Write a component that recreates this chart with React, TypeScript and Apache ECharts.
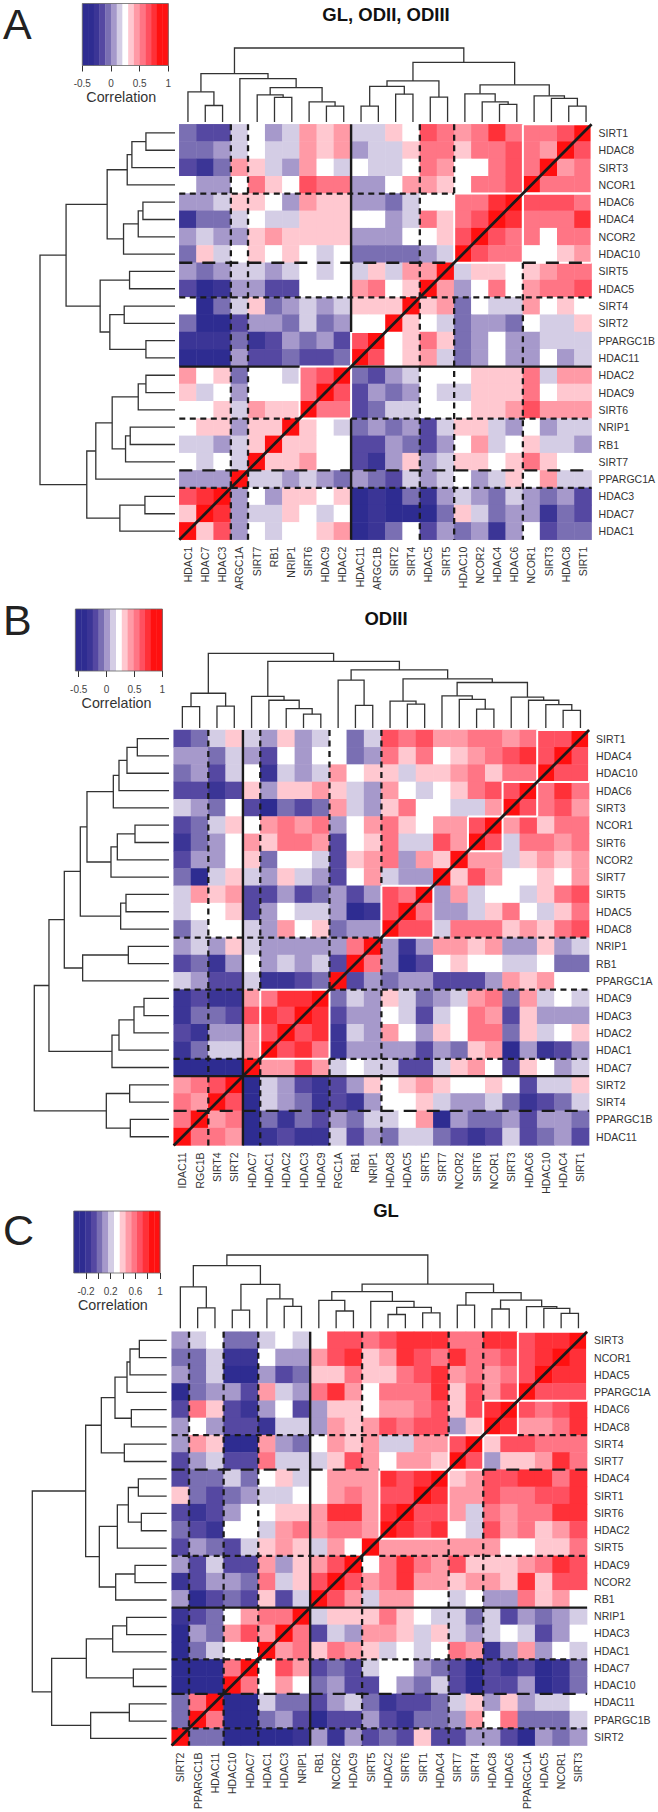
import React, { useEffect, useRef } from "react";
import * as echarts from "echarts";

// Colour-key bins, darkest blue (-7) to pure red (+7); cells are read as the bin number they show.
const KEY_COLORS = ["#2e2c91", "#2e2c91", "#3b3596", "#5548a2", "#7a6fb3", "#a699cb", "#d4cde5", "#ffffff", "#ffc8d0", "#ff9aa6", "#ff7585", "#ff5060", "#ff3038", "#ff1010", "#ff1010"];

const GENES_A = ["SIRT1", "HDAC8", "SIRT3", "NCOR1", "HDAC6", "HDAC4", "NCOR2", "HDAC10", "SIRT5", "HDAC5", "SIRT4", "SIRT2", "PPARGC1B", "HDAC11", "HDAC2", "HDAC9", "SIRT6", "NRIP1", "RB1", "SIRT7", "PPARGC1A", "HDAC3", "HDAC7", "HDAC1"];
const GENES_B = ["SIRT1", "HDAC4", "HDAC10", "HDAC6", "SIRT3", "NCOR1", "SIRT6", "NCOR2", "SIRT7", "SIRT5", "HDAC5", "HDAC8", "NRIP1", "RB1", "PPARGC1A", "HDAC9", "HDAC3", "HDAC2", "HDAC1", "HDAC7", "SIRT2", "SIRT4", "PPARGC1B", "HDAC11"];
const GENES_C = ["SIRT3", "NCOR1", "HDAC5", "PPARGC1A", "HDAC6", "HDAC8", "SIRT4", "SIRT7", "HDAC4", "SIRT1", "SIRT6", "HDAC2", "SIRT5", "HDAC9", "NCOR2", "RB1", "NRIP1", "HDAC3", "HDAC1", "HDAC7", "HDAC10", "HDAC11", "PPARGC1B", "SIRT2"];

// Column labels as they appear (the figure crops the long ones in A and B).
const CROPPED_A: Record<string, string> = { PPARGC1A: "ARGC1A", PPARGC1B: "ARGC1B" };
const CROPPED_B: Record<string, string> = { HDAC11: "IDAC11", PPARGC1A: "RGC1A", PPARGC1B: "RGC1B" };
const CROPPED_C: Record<string, string> = {};

// Colour-key tick marks and tick labels.
const KEY_TICKS_AB = [-0.5, 0, 0.5, 1];
const KEY_TICKS_C = [-0.2, 0, 0.2, 0.4, 0.6, 0.8, 1];
const KEY_LABELS_C = [-0.2, 0.2, 0.6, 1];

// Upper-left triangle of each symmetric matrix (row by row, columns left to right up to the diagonal).
const LEVELS_A = [
  [-3, -4, -4, -1, 0, -2, -1, 2, 1, 2, -1, -1, 1, 0, 4, 3, 2, 3, 5, 3, 3, 3, 4, 7],
  [-3, -3, -2, -1, 0, -1, -1, 2, 1, 2, -2, -1, -1, 1, 3, 3, 1, 3, 3, 4, 3, 2, 7],
  [-4, -5, -3, 2, 1, -1, -2, 2, 0, -1, 0, -1, -1, 0, 3, 2, 0, 0, 3, 4, 3, 7],
  [0, -2, -2, 0, 3, 1, 0, 4, 3, 3, -2, -2, 0, 2, 2, 1, 0, 3, 3, 4, 7],
  [-2, -2, -1, 1, 1, 0, -2, 2, 1, 1, -2, -2, -3, -1, 0, 0, 3, 3, 5, 7],
  [-5, -3, -3, -1, 0, -1, -1, 1, 1, 1, 0, 0, -2, -1, 3, 1, 3, 4, 7],
  [-2, -1, -2, -2, 1, 2, 1, 1, 1, 1, -2, -2, -2, 0, 0, 1, 4, 7],
  [-3, 1, -1, 0, 1, 0, 1, 0, -1, 0, -3, -3, -3, -3, -2, -1, 7],
  [-2, -3, -2, -1, -1, -2, -1, 0, -1, 0, -1, 1, -1, 2, 2, 7],
  [-4, -6, -5, -2, -2, -4, -4, 0, 0, 0, 2, 3, 0, 1, 7],
  [0, -6, -3, -1, 1, -3, -2, -1, -2, -1, 1, 1, 1, 7],
  [-3, -6, -6, -4, -2, -2, -3, -1, -3, -2, 0, 0, 7],
  [-5, -5, -5, -3, -5, -4, -2, -3, -2, -4, 4, 7],
  [-6, -6, -6, -2, -4, -4, -3, -4, -4, -3, 7],
  [2, 0, 1, -3, 0, 0, -1, 3, 4, 7],
  [1, -1, 0, -2, 0, 0, 0, 3, 7],
  [0, 0, 1, -1, 2, 1, 1, 7],
  [0, 1, 1, -2, 1, 1, 7],
  [-1, -1, -2, -1, 1, 7],
  [0, -1, 0, -1, 7],
  [-2, -2, -2, 7],
  [4, 5, 7],
  [1, 7],
  [7],
];
const LEVELS_B = [
  [-4, -3, -1, 1, -1, -2, 1, -2, -1, 0, -3, -1, 4, 3, 4, 2, 2, 3, 3, 2, 3, 4, 4, 7],
  [-2, -2, -3, -1, -2, -4, 0, -2, 0, 0, -3, -2, 3, 1, 3, 0, 1, 2, 3, 4, 5, 4, 7],
  [-3, -2, -4, -1, 0, -5, -1, -2, -1, 2, 0, 1, 1, -1, 1, 1, 2, 3, 1, 3, 3, 7],
  [-4, -4, -5, -4, 1, -2, 1, 1, 2, 1, -1, -2, 2, 0, -1, 0, 1, 3, 4, 4, 7],
  [-1, -2, -3, 0, -4, -6, -3, -4, -3, 2, -1, -2, 1, 3, 0, 0, -1, -1, 2, 7],
  [-4, -3, -1, 1, 0, 2, 3, 2, 3, -2, 0, 2, 3, 1, 0, 2, 2, 4, 7],
  [-5, -3, -2, 0, 2, 1, 3, 3, 2, -4, 0, 1, 3, -1, -1, 4, 2, 7],
  [-4, -2, -2, 0, 1, -3, 0, 0, -1, -4, 1, 2, 3, -2, 2, 1, 7],
  [-3, -6, -1, 1, -1, -2, 1, -1, -2, -4, 0, 2, -1, -2, -2, 7],
  [-1, 2, 1, 2, -4, -4, -2, -4, -3, -2, -4, -2, 4, 3, 7],
  [-1, 0, 0, 1, -4, -2, 0, -1, -1, -2, -6, -5, 4, 7],
  [-3, -1, 0, 0, -1, -2, 2, 0, 1, -3, -2, -2, 7],
  [-2, -1, -2, 1, -1, -2, -2, -2, -2, -2, 3, 7],
  [-4, -3, -5, -2, 0, -2, -1, -2, -1, -4, 7],
  [-1, -2, -4, -4, -1, -5, -5, -4, -3, 7],
  [-5, -4, -5, -5, 2, 3, 5, 5, 7],
  [-5, -3, -3, -4, 4, 5, 4, 7],
  [-4, -5, -2, -2, 2, 4, 7],
  [-5, -3, -1, -1, 2, 7],
  [-6, -6, -6, -6, 7],
  [2, 3, 4, 7],
  [3, 2, 7],
  [3, 7],
  [7],
];
const LEVELS_C = [
  [-2, -1, 0, -3, -3, -1, 0, -1, 0, 4, 4, 3, 4, 5, 5, 5, 3, 3, 5, 5, 4, 5, 5, 7],
  [-3, -3, -1, -5, -5, 0, -2, -2, 2, 4, 5, 1, 2, 5, 4, 3, 5, 3, 3, 4, 4, 5, 7],
  [-2, -3, -1, -6, -6, -2, -4, -3, 1, 1, 3, 1, 1, 3, 4, 5, 2, 3, 2, 3, 4, 7],
  [-6, -3, -2, -2, -4, 2, -1, -2, 3, 5, 2, 0, 3, 3, 3, 5, 1, 4, 2, 4, 7],
  [-4, 3, 1, -4, -5, -2, 0, -4, -2, 1, 1, 0, 2, 2, 3, 4, 1, 4, 5, 7],
  [-2, 0, -2, -4, -4, -5, -1, -1, -2, 2, 1, 2, 4, 3, 4, 4, -2, 1, 7],
  [-2, 2, 1, -6, -6, 2, -2, -3, 0, 2, 1, 2, -1, -1, 2, 2, 4, 7],
  [-4, -2, -1, -4, -4, 3, -1, -1, -1, 1, 4, 2, 0, 2, 2, 1, 7],
  [-4, -3, -3, -1, -3, 0, 1, -1, 0, 2, 2, 2, 5, 4, 5, 7],
  [1, -3, -4, -3, -2, -1, -1, 0, 0, 2, 3, 2, 4, 4, 7],
  [-4, -5, -4, -2, 0, 0, 1, 1, 2, 5, 5, 2, 5, 7],
  [-3, -4, -5, 0, 0, -1, 2, 3, 2, 3, 3, 2, 7],
  [-4, -2, -3, -4, -1, 1, 2, 1, -1, 2, 0, 7],
  [-2, -4, -1, -4, -4, 2, -2, 1, 2, 4, 7],
  [-5, -4, -2, -2, -3, 3, -1, 1, 4, 7],
  [-2, -6, -4, -3, -4, 1, -4, -1, 7],
  [-5, -4, -3, 0, 2, 3, 3, 7],
  [-6, -2, -3, 2, 4, 2, 7],
  [-6, -3, -1, 0, 0, 7],
  [-6, -6, -6, 3, 7],
  [-6, -6, -6, 7],
  [-3, 3, 7],
  [-3, 7],
  [7],
];

// Clustering trees: [merge height, left, right]; a leaf is a gene name.
type Tree = string | [number, Tree, Tree];
const TREE_A: Tree = [404,
  [264, [165, "HDAC1", [90, "HDAC7", "HDAC3"]],
    [237, "PPARGC1A", [188, [148, "SIRT7", [134, "RB1", "NRIP1"]], [110, "SIRT6", [87, "HDAC9", "HDAC2"]]]]],
  [326, [224, [195, [87, "HDAC11", "PPARGC1B"], [152, "SIRT2", "SIRT4"]], [136, "HDAC5", "SIRT5"]],
    [203, [154, "HDAC10", [110, "NCOR2", [96, "HDAC4", "HDAC6"]]], [143, "NCOR1", [129, "SIRT3", [87, "HDAC8", "SIRT1"]]]]]];
const TREE_B: Tree = [404,
  [188, [116, "HDAC11", "PPARGC1B"], [118, "SIRT4", "SIRT2"]],
  [360, [171, "HDAC7", [150, "HDAC1", [105, "HDAC2", [75, "HDAC3", "HDAC9"]]]],
    [314, [259, "PPARGC1A", [122, "RB1", "NRIP1"]],
      [266, [145, "HDAC8", [129, "HDAC5", "SIRT5"]],
        [246, [174, "SIRT7", [155, "NCOR2", [102, "SIRT6", "NCOR1"]]],
          [167, "SIRT3", [150, "HDAC6", [126, "HDAC10", [95, "HDAC4", "SIRT1"]]]]]]]]];
const TREE_C: Tree = [403,
  [345, [228, "SIRT2", [112, "PPARGC1B", "HDAC11"]],
    [241, [100, "HDAC10", "HDAC7"], [162, "HDAC1", [120, "HDAC3", "NRIP1"]]]],
  [243, [202, [153, "RB1", [95, "NCOR2", "HDAC9"]],
      [148, "SIRT5", [115, [76, "HDAC2", "SIRT6"], [85, "SIRT1", "HDAC4"]]]],
    [196, [127, "SIRT7", "SIRT4"],
      [155, [106, "HDAC8", "HDAC6"], [119, "PPARGC1A", [110, "HDAC5", [82, "NCOR1", "SIRT3"]]]]]]];

// Cluster outlines in cell units: [style, col1, row1, col2, row2]. w = white, s = solid, d = dashed, l = long dash.
type Seg = [string, number, number, number, number];
const box = (c1: number, r1: number, c2: number, r2: number): Seg[] => [
  ["w", c1, r1, c2, r1], ["w", c1, r2, c2, r2], ["w", c1, r1, c1, r2], ["w", c2, r1, c2, r2],
];
const OUTLINES_A: Seg[] = [
  ...box(20, 0, 24, 4), ...box(16, 4, 20, 8), ...box(20, 4, 24, 8), ...box(7, 14, 10, 17), ...box(10, 12, 12, 14),
  ["d", 3, 0, 3, 24], ["d", 4, 0, 4, 24], ["d", 14, 0, 14, 24], ["d", 16, 0, 16, 4], ["d", 16, 10, 16, 24], ["d", 20, 8, 20, 24],
  ["d", 0, 4, 16, 4], ["l", 0, 8, 16, 8], ["l", 20, 8, 24, 8], ["d", 0, 10, 24, 10], ["s", 0, 14, 7, 14], ["s", 10, 14, 24, 14],
  ["s", 10, 0, 10, 12], ["s", 10, 17, 10, 24], ["d", 0, 17, 7, 17], ["d", 10, 17, 24, 17], ["l", 0, 20, 24, 20], ["d", 0, 21, 24, 21],
];
const OUTLINES_B: Seg[] = [
  ...box(21, 0, 24, 3), ...box(19, 3, 21, 5), ...box(17, 5, 19, 7), ...box(12, 9, 15, 12), ...box(5, 15, 9, 19),
  ["d", 2, 0, 2, 24], ["s", 4, 0, 4, 24], ["d", 5, 0, 5, 15], ["d", 5, 19, 5, 24], ["d", 9, 0, 9, 15], ["d", 9, 19, 9, 24],
  ["d", 12, 0, 12, 9], ["d", 12, 12, 12, 24], ["d", 0, 12, 12, 12], ["d", 15, 12, 24, 12], ["d", 0, 15, 5, 15], ["d", 9, 15, 24, 15],
  ["d", 0, 19, 5, 19], ["d", 9, 19, 24, 19], ["s", 0, 20, 24, 20], ["l", 0, 22, 24, 22],
];
const OUTLINES_C: Seg[] = [
  ...box(20, 0, 24, 4), ...box(18, 4, 20, 6), ...box(16, 6, 18, 8), ...box(12, 8, 16, 12),
  ["d", 1, 0, 1, 24], ["d", 3, 0, 3, 24], ["d", 5, 0, 5, 24], ["s", 8, 0, 8, 24], ["d", 11, 0, 11, 8], ["d", 11, 13, 11, 24],
  ["d", 16, 0, 16, 6], ["d", 16, 12, 16, 24], ["d", 18, 0, 18, 4], ["d", 18, 8, 18, 24],
  ["d", 0, 6, 16, 6], ["d", 20, 6, 24, 6], ["l", 0, 8, 12, 8], ["l", 18, 8, 24, 8],
  ["d", 0, 13, 11, 13], ["d", 12, 13, 24, 13], ["s", 0, 16, 24, 16], ["d", 0, 19, 24, 19], ["l", 0, 21, 24, 21], ["d", 0, 23, 24, 23],
];

const FONT = "'Liberation Sans', Arial, sans-serif";
const TEXT = "#333333";
const N = 24;
const SIZE = 415.4;

const STYLES: Record<string, any> = {
  w: { stroke: "#ffffff", lineWidth: 2 },
  s: { stroke: "#1a1a1a", lineWidth: 2.4 },
  d: { stroke: "#1a1a1a", lineWidth: 2.3, lineDash: [6, 4.5] },
  l: { stroke: "#1a1a1a", lineWidth: 2.3, lineDash: [13, 10] },
};

const PANELS = [
  {
    letter: "A", title: "GL, ODII, ODIII", genes: GENES_A, cropped: CROPPED_A, tri: LEVELS_A, tree: TREE_A, outlines: OUTLINES_A,
    x: 179.3, y: 124.3, topY: 48, leafY: 122, rootX: 40, leafX: 175, letterY: 2,
    key: { left: 82.3, width: 86, top: 3.5, height: 62, min: -0.5, interval: 0.5, mid: 0.25, step: 0.1, ticks: KEY_TICKS_AB, labels: KEY_TICKS_AB }, titleY: 5,
  },
  {
    letter: "B", title: "ODIII", genes: GENES_B, cropped: CROPPED_B, tri: LEVELS_B, tree: TREE_B, outlines: OUTLINES_B,
    x: 173.7, y: 730, topY: 653.3, leafY: 728, rootX: 34.3, leafX: 169, letterY: 598,
    key: { left: 78.7, width: 83.7, top: 609, height: 62, min: -0.5, interval: 0.5, mid: 0.22, step: 0.104, ticks: KEY_TICKS_AB, labels: KEY_TICKS_AB }, titleY: 609,
  },
  {
    letter: "C", title: "GL", genes: GENES_C, cropped: CROPPED_C, tri: LEVELS_C, tree: TREE_C, outlines: OUTLINES_C,
    x: 171.7, y: 1331.7, topY: 1255, leafY: 1328.3, rootX: 32.3, leafX: 166.7, letterY: 1208,
    key: { left: 73.7, width: 86.3, top: 1211, height: 62, min: -0.4, interval: 0.2, mid: 0.3, step: 0.0933, ticks: KEY_TICKS_C, labels: KEY_LABELS_C }, titleY: 1201,
  },
];

function merges(tree: Tree, cols: string[]) {
  const out: number[][] = [];
  const walk = (t: Tree): [number, number] => {
    if (typeof t === "string") return [cols.indexOf(t) + 0.5, 0];
    const [h, a, b] = t;
    const [xa, ha] = walk(a);
    const [xb, hb] = walk(b);
    out.push([xa, ha, xb, hb, h]);
    return [(xa + xb) / 2, h];
  };
  walk(tree);
  return out;
}

function buildOption() {
  const grid: any[] = [], xAxis: any[] = [], yAxis: any[] = [], series: any[] = [], visualMap: any[] = [], graphic: any[] = [];

  const addGrid = (g: any, xs: any[], ys: any[]) => {
    const gridIndex = grid.length;
    grid.push({ ...g, containLabel: false });
    const xi = xs.map((a) => { xAxis.push({ ...a, gridIndex }); return xAxis.length - 1; });
    const yi = ys.map((a) => { yAxis.push({ ...a, gridIndex }); return yAxis.length - 1; });
    return { xi, yi };
  };
  const hiddenValue = (min: number, max: number, inverse = false) => ({ type: "value", show: false, min, max, inverse, splitLine: { show: false } });

  PANELS.forEach((p) => {
    const cols = [...p.genes].reverse();
    const value = (l: number) => p.key.mid + l * p.key.step;

    // Heat map
    const h = addGrid({ left: p.x, top: p.y, width: SIZE, height: SIZE }, [
      {
        type: "category", data: cols.map((g) => (p.cropped as any)[g] ?? g), position: "bottom",
        axisLine: { show: false }, axisTick: { show: false }, splitLine: { show: false },
        axisLabel: { interval: 0, rotate: 90, fontSize: 10.5, fontFamily: FONT, color: TEXT, margin: 7 },
      },
      hiddenValue(0, N),
    ], [
      {
        type: "category", data: p.genes, inverse: true, position: "right",
        axisLine: { show: false }, axisTick: { show: false }, splitLine: { show: false },
        axisLabel: { interval: 0, fontSize: 10.5, fontFamily: FONT, color: TEXT, margin: 7 },
      },
      hiddenValue(0, N, true),
    ]);
    const cells: number[][] = [];
    for (let i = 0; i < N; i++) {
      for (let j = 0; j < N; j++) {
        const l = i + j <= N - 1 ? p.tri[i][j] : p.tri[N - 1 - j][N - 1 - i];
        cells.push([j, i, value(l)]);
      }
    }
    visualMap.push({
      type: "piecewise", show: false, seriesIndex: series.length, dimension: 2,
      pieces: KEY_COLORS.map((color, k) => ({ gte: value(k - 7.5), lt: value(k - 6.5), color })),
    });
    series.push({
      type: "heatmap", xAxisIndex: h.xi[0], yAxisIndex: h.yi[0], data: cells, silent: true, progressive: 0,
      itemStyle: { borderWidth: 0 }, emphasis: { disabled: true },
    });

    // Cluster outlines and the diagonal
    const segs = [...p.outlines.filter((s) => s[0] === "w"), ...p.outlines.filter((s) => s[0] !== "w")];
    series.push({
      type: "custom", xAxisIndex: h.xi[1], yAxisIndex: h.yi[1], silent: true, z: 5,
      data: segs.map((s) => s.slice(1)),
      renderItem: (params: any, api: any) => {
        const a = api.coord([api.value(0), api.value(1)]);
        const b = api.coord([api.value(2), api.value(3)]);
        return { type: "line", shape: { x1: a[0], y1: a[1], x2: b[0], y2: b[1] }, style: { ...STYLES[segs[params.dataIndex][0]], fill: "none" } };
      },
    });
    series.push({
      type: "custom", xAxisIndex: h.xi[1], yAxisIndex: h.yi[1], silent: true, z: 6,
      data: [[0, N, N, 0]],
      renderItem: (_: any, api: any) => {
        const a = api.coord([api.value(0), api.value(1)]);
        const b = api.coord([api.value(2), api.value(3)]);
        return { type: "line", shape: { x1: a[0], y1: a[1], x2: b[0], y2: b[1] }, style: { stroke: "#1a1a1a", lineWidth: 2.8 } };
      },
    });

    // Dendrograms
    const m = merges(p.tree, cols);
    const rootH = (p.tree as any)[0] as number;
    const dendroStyle = { stroke: "#333333", lineWidth: 1.3, fill: "none" };
    const top = addGrid({ left: p.x, top: p.topY, width: SIZE, height: p.leafY - p.topY }, [hiddenValue(0, N)], [hiddenValue(0, rootH)]);
    series.push({
      type: "custom", xAxisIndex: top.xi[0], yAxisIndex: top.yi[0], silent: true, data: m,
      renderItem: (_: any, api: any) => {
        const [xa, ha, xb, hb, hh] = [0, 1, 2, 3, 4].map((d) => api.value(d));
        return { type: "polyline", shape: { points: [[xa, ha], [xa, hh], [xb, hh], [xb, hb]].map((c) => api.coord(c)) }, style: dendroStyle };
      },
    });
    const side = addGrid({ left: p.rootX, top: p.y, width: p.leafX - p.rootX, height: SIZE }, [hiddenValue(0, rootH, true)], [hiddenValue(0, N, true)]);
    series.push({
      type: "custom", xAxisIndex: side.xi[0], yAxisIndex: side.yi[0], silent: true, data: m.map((r) => [r[1], N - r[0], r[3], N - r[2], r[4]]),
      renderItem: (_: any, api: any) => {
        const [ha, ya, hb, yb, hh] = [0, 1, 2, 3, 4].map((d) => api.value(d));
        return { type: "polyline", shape: { points: [[ha, ya], [hh, ya], [hh, yb], [hb, yb]].map((c) => api.coord(c)) }, style: dendroStyle };
      },
    });

    // Colour key
    const k = p.key;
    const key = addGrid({ left: k.left, top: k.top, width: k.width, height: k.height }, [{
      type: "value", min: k.min, max: 1, interval: k.interval, position: "bottom",
      splitLine: { show: false }, axisLine: { show: false },
      axisTick: { show: true, length: 6, lineStyle: { color: "#333333", width: 1 }, customValues: k.ticks },
      axisLabel: {
        fontSize: 10, fontFamily: FONT, color: "#444444", margin: 13, customValues: k.labels,
        formatter: (v: number) => String(Math.round(v * 10) / 10),
      },
      name: "Correlation", nameLocation: "middle", nameGap: 24.5,
      nameTextStyle: { fontSize: 14.3, fontFamily: FONT, color: TEXT, padding: [0, 8, 0, 0] },
    }], [hiddenValue(0, 1)]);
    series.push({
      type: "custom", xAxisIndex: key.xi[0], yAxisIndex: key.yi[0], silent: true,
      data: KEY_COLORS.map((_, i) => [value(i - 7.5), value(i - 6.5), i]),
      renderItem: (_: any, api: any) => {
        const a = api.coord([api.value(0), 1]);
        const b = api.coord([Math.min(api.value(1), 1), 0]);
        return { type: "rect", shape: { x: a[0], y: a[1], width: b[0] - a[0] + 0.3, height: b[1] - a[1] }, style: { fill: KEY_COLORS[api.value(2)] } };
      },
    });
    series.push({
      type: "custom", xAxisIndex: key.xi[0], yAxisIndex: key.yi[0], silent: true, z: 4,
      data: [[value(-7.5), 1]],
      renderItem: (_: any, api: any) => {
        const a = api.coord([api.value(0), 1]);
        const b = api.coord([1, 0]);
        return { type: "rect", shape: { x: a[0], y: a[1], width: b[0] - a[0], height: b[1] - a[1] }, style: { fill: "none", stroke: "#666666", lineWidth: 0.8 } };
      },
    });

    graphic.push({
      type: "text", x: 3, y: p.letterY, style: { text: p.letter, font: `43px ${FONT}`, fill: "#222222" },
    });
    graphic.push({
      type: "text", x: 386, y: p.titleY, style: { text: p.title, font: `bold 18.5px ${FONT}`, fill: "#111111", textAlign: "center" },
    });
  });

  return { animation: false, backgroundColor: "#ffffff", grid, xAxis, yAxis, series, visualMap, graphic };
}

export default function App() {
  const ref = useRef<HTMLDivElement>(null);
  useEffect(() => {
    document.body.style.margin = "0";
    const chart = echarts.init(ref.current!, null, { renderer: "svg" });
    chart.setOption(buildOption() as any);
    return () => chart.dispose();
  }, []);
  return <div ref={ref} style={{ width: 658, height: 1812, position: "absolute", left: 0, top: 0 }} />;
}
